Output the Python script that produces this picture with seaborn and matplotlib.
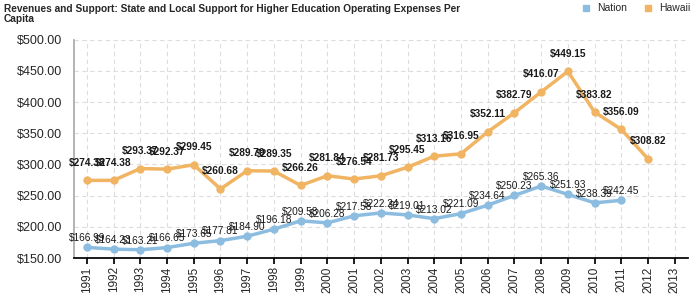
import matplotlib
matplotlib.use("Agg")
import matplotlib.pyplot as plt
import seaborn as sns
import pandas as pd
import numpy as np

years = [str(y) for y in range(1991, 2014)]
nation = [166.99, 164.23, 163.21, 166.65, 173.65, 177.81, 184.90, 196.18, 209.58, 206.28,
          217.58, 222.24, 219.01, 213.02, 221.09, 234.64, 250.23, 265.36, 251.93, 238.39, 242.45,
          None, None]
hawaii = [274.38, 274.38, 293.37, 292.37, 299.45, 260.68, 289.79, 289.35, 266.26, 281.84,
          276.54, 281.73, 295.45, 313.16, 316.95, 352.11, 382.79, 416.07, 449.15, 383.82, 356.09,
          308.82, None]

sns.set_theme(style="white")
plt.rcParams['font.family'] = ['Liberation Sans Narrow', 'Liberation Sans', 'DejaVu Sans']

df = pd.DataFrame({"pos": np.arange(len(years)), "year": years,
                   "Nation": nation, "Hawaii": hawaii})
long = df.melt(id_vars=["pos", "year"], value_vars=["Nation", "Hawaii"],
               var_name="series", value_name="value").dropna()

colors = {"Nation": "#8cbde0", "Hawaii": "#f0b462"}
offsets = {"Nation": 3, "Hawaii": 9}

fig = plt.figure(figsize=(7, 3), dpi=100)
ax = fig.add_axes([0.105, 0.14, 0.878, 0.728])

for name in ["Nation", "Hawaii"]:
    sub = long[long.series == name]
    sns.lineplot(data=sub, x="pos", y="value", ax=ax, color=colors[name],
                 linewidth=2.5, marker="o", markersize=6, markeredgewidth=0,
                 legend=False, zorder=3)
    bold = name == "Hawaii"
    for p, v in zip(sub["pos"], sub["value"]):
        ax.annotate(f"${v:.2f}", (p, v), xytext=(0, offsets[name]), textcoords="offset points",
                    ha="center", va="bottom", fontsize=7.3, color="#1a1a1a",
                    fontweight="bold" if bold else "normal", zorder=4)

ax.set_xlim(-0.5, len(years) - 0.5)
ax.set_ylim(150, 500)
ax.set_xticks(np.arange(len(years)))
ax.set_xticklabels(years, rotation=90, fontsize=8.5)
yt = np.arange(150, 501, 50)
ax.set_yticks(yt)
ax.set_yticklabels([f"${v:.2f}" for v in yt], fontsize=9)
ax.grid(True, color="#dddddd", linestyle=(0, (4, 3)), linewidth=0.8)
ax.set_axisbelow(True)
for s in ["top", "right"]:
    ax.spines[s].set_visible(False)
ax.spines["left"].set_color("#aaaaaa")
ax.spines["bottom"].set_color("#000000")
ax.tick_params(axis="x", bottom=True, length=4, color="#000000", pad=2)
ax.tick_params(axis="y", left=False, pad=2)
ax.set_xlabel("")
ax.set_ylabel("")

fig.text(0.005, 0.985, "Revenues and Support: State and Local Support for Higher Education Operating Expenses Per\nCapita",
         ha="left", va="top", fontsize=7.3, fontweight="bold", linespacing=0.95)

from matplotlib.lines import Line2D
handles = [Line2D([], [], marker="s", linestyle="", color=colors[n], markersize=4) for n in ["Nation", "Hawaii"]]
fig.legend(handles, ["Nation", "Hawaii"], loc="upper right", bbox_to_anchor=(1.0, 1.02),
           ncol=2, frameon=False, fontsize=7.5, handletextpad=0.1, columnspacing=1.0)

fig.savefig("out.png", dpi=100)
